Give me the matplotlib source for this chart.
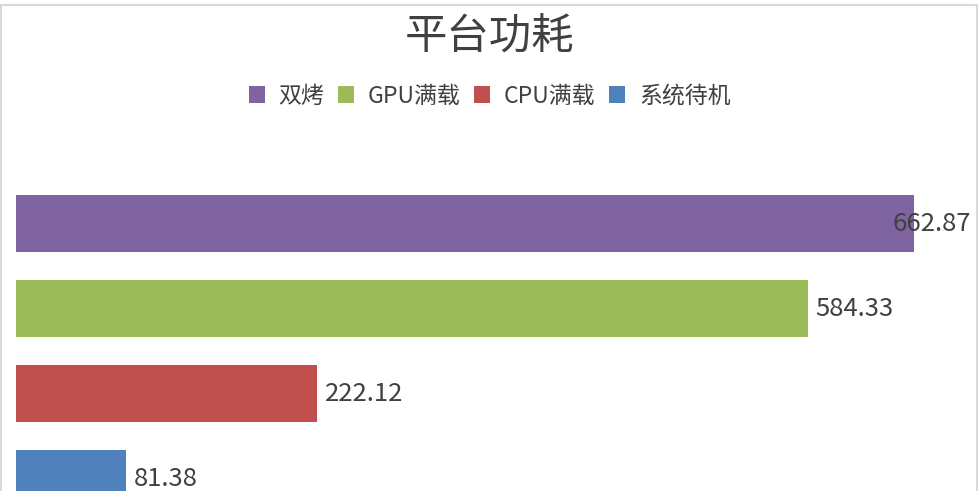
import matplotlib.pyplot as plt
from matplotlib.patches import Patch, Rectangle

plt.rcParams['font.family'] = ['Noto Sans CJK SC', 'DejaVu Sans']

categories = ["双烤", "GPU满载", "CPU满载", "系统待机"]
values = [662.87, 584.33, 222.12, 81.38]
colors = ["#8064A2", "#9BBB59", "#C0504D", "#4F81BD"]
text_color = "#404040"

fig = plt.figure(figsize=(9.79, 4.91), dpi=100)
ax = fig.add_axes([16 / 979, 0, 963 / 979, 341 / 491])

ypos = list(range(len(categories) - 1, -1, -1))
bars = ax.barh(ypos, values, height=0.67, color=colors)

ax.set_xlim(0, 963 / 1.355)
ax.set_ylim(-0.147, 3.865)
ax.axis("off")

for i, (b, v) in enumerate(zip(bars, values)):
    dx = -22 if i == 0 else 8
    ax.annotate(f"{v:.2f}", (v, b.get_y() + b.get_height() / 2),
                xytext=(dx, 0), textcoords="offset pixels",
                va="center", ha="left", fontsize=18.5, color=text_color)

fig.text(0.5, 1 - 38 / 491, "平台功耗", ha="center", va="center",
         fontsize=30.5, color=text_color)

handles = [Patch(facecolor=c, label=l) for c, l in zip(colors, categories)]
fig.legend(handles=handles, loc="center", bbox_to_anchor=(0.5, 1 - 96 / 491),
           ncol=4, frameon=False, fontsize=16.5, handlelength=0.7,
           handleheight=0.7, handletextpad=0.6, columnspacing=0.6,
           labelcolor=text_color)

fig.patches.append(Rectangle((0.5 / 979, -0.01), 977 / 979, 1.0, transform=fig.transFigure,
                             fill=False, edgecolor="#D9D9D9", linewidth=1.5))

fig.savefig("out.png", dpi=100)
